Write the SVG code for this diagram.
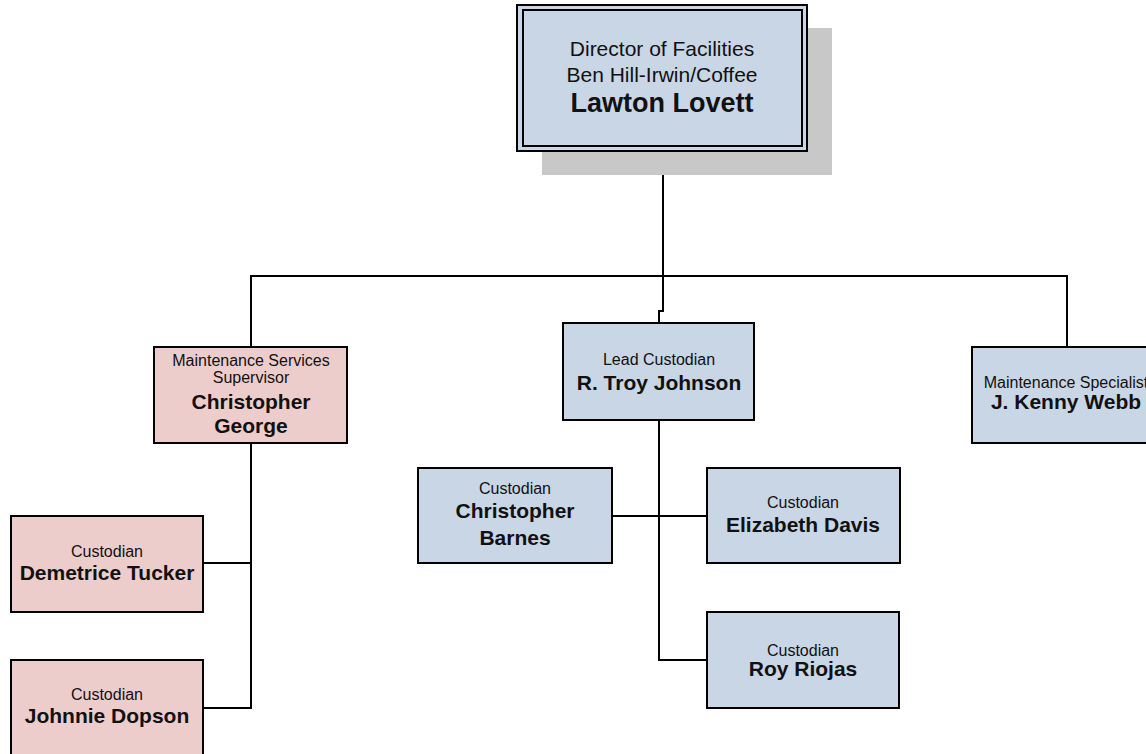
<svg xmlns="http://www.w3.org/2000/svg" width="1146" height="754" viewBox="0 0 1146 754">
<style>
.box{stroke:#000;stroke-width:2}
.blue{fill:#c9d6e6}
.pink{fill:#edcdcc}
text{font-family:"Liberation Sans",Arial,sans-serif;fill:#111;text-anchor:middle}
.t{font-size:16px}
.n{font-size:21px;font-weight:bold}
.tt{font-size:21px}
.tn{font-size:27px;font-weight:bold}
.conn{fill:none;stroke:#000;stroke-width:2}
</style>
<rect width="1146" height="754" fill="#fff"/>
<g id="connectors">
<path class="conn" d="M663 151 V311 H659 V323"/>
<path class="conn" d="M251 347 V276 H1067 V347"/>
<path class="conn" d="M251 443 V708 H203"/>
<path class="conn" d="M251 563 H203"/>
<path class="conn" d="M659 420 V660 H707"/>
<path class="conn" d="M612 516 H707"/>
</g>
<g id="director">
<rect x="542" y="28" width="290" height="147" fill="#c8c8c8"/>
<rect class="box blue" x="517" y="5" width="290" height="146"/>
<rect x="523" y="10" width="279" height="136" fill="none" stroke="#000" stroke-width="2"/>
<text class="tt" x="662" y="56">Director of Facilities</text>
<text class="tt" x="662" y="82">Ben Hill-Irwin/Coffee</text>
<text class="tn" x="662" y="112">Lawton Lovett</text>
</g>
<g id="christopher-george">
<rect class="box pink" x="154" y="347" width="193" height="96"/>
<text class="t" x="251" y="366">Maintenance Services</text>
<text class="t" x="251" y="383">Supervisor</text>
<text class="n" x="251" y="409">Christopher</text>
<text class="n" x="251" y="433">George</text>
</g>
<g id="troy-johnson">
<rect class="box blue" x="563" y="323" width="191" height="97"/>
<text class="t" x="659" y="365">Lead Custodian</text>
<text class="n" x="659" y="390">R. Troy Johnson</text>
</g>
<g id="kenny-webb">
<rect class="box blue" x="972" y="347" width="190" height="96"/>
<text class="t" x="1066" y="388">Maintenance Specialist</text>
<text class="n" x="1066" y="409">J. Kenny Webb</text>
</g>
<g id="demetrice-tucker">
<rect class="box pink" x="11" y="516" width="192" height="96"/>
<text class="t" x="107" y="557">Custodian</text>
<text class="n" x="107" y="580">Demetrice Tucker</text>
</g>
<g id="johnnie-dopson">
<rect class="box pink" x="11" y="660" width="192" height="100"/>
<text class="t" x="107" y="700">Custodian</text>
<text class="n" x="107" y="723">Johnnie Dopson</text>
</g>
<g id="christopher-barnes">
<rect class="box blue" x="418" y="468" width="194" height="95"/>
<text class="t" x="515" y="494">Custodian</text>
<text class="n" x="515" y="518">Christopher</text>
<text class="n" x="515" y="545">Barnes</text>
</g>
<g id="elizabeth-davis">
<rect class="box blue" x="707" y="468" width="193" height="95"/>
<text class="t" x="803" y="508">Custodian</text>
<text class="n" x="803" y="532">Elizabeth Davis</text>
</g>
<g id="roy-riojas">
<rect class="box blue" x="707" y="612" width="192" height="96"/>
<text class="t" x="803" y="656">Custodian</text>
<text class="n" x="803" y="676">Roy Riojas</text>
</g>
</svg>
